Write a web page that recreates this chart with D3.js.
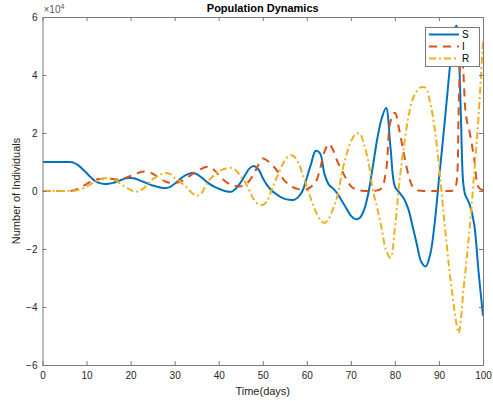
<!DOCTYPE html>
<html><head><meta charset="utf-8">
<script src="https://cdn.jsdelivr.net/npm/d3@7"></script>
<style>body{margin:0;background:#fff}svg{display:block}text{font-family:"Liberation Sans",Arial,Helvetica,sans-serif}</style>
</head><body><svg id="c" width="493" height="401"></svg>
<script>
// data (values in units of 1e4)
const days = [];
for (let t = 0; t <= 92; t++) days.push(t);
days.push(92.5, 93, 93.5, 94, 94.5, 95, 95.5, 96, 96.5, 97, 98, 99, 100);

const S = [1,1,1,1,1,1,1,0.98,0.9,0.77,0.62,0.47,0.34,0.27,0.24,0.25,0.28,0.33,0.39,0.44,
  0.45,0.43,0.37,0.31,0.25,0.19,0.15,0.11,0.1,0.14,0.25,0.38,0.5,0.58,0.62,0.58,0.48,0.35,0.24,0.15,
  0.08,0.02,-0.02,-0.02,0.1,0.3,0.55,0.78,0.86,0.75,0.45,0.2,0.02,-0.1,-0.2,-0.27,-0.3,-0.31,-0.22,0.0,
  0.45,0.95,1.38,1.3,0.6,0.22,0.08,-0.1,-0.35,-0.6,-0.85,-0.97,-0.93,-0.65,-0.05,0.85,1.8,2.5,2.86,1.5,
  0.15,-0.05,-0.25,-0.6,-1.2,-1.85,-2.45,-2.6,-2.2,-1.15,0.4,1.9,3.5,
  4.3,5.0,5.55,5.7,4.8,2.5,0.3,-0.15,-0.3,-0.48,-1.15,-2.8,-4.3];

const I = [0,0,0,0,0,0,0,0.02,0.07,0.15,0.24,0.32,0.38,0.41,0.42,0.42,0.41,0.4,0.42,0.46,
  0.52,0.58,0.64,0.67,0.66,0.6,0.5,0.4,0.32,0.28,0.28,0.3,0.38,0.48,0.58,0.68,0.76,0.83,0.83,0.72,
  0.55,0.4,0.28,0.2,0.17,0.16,0.22,0.36,0.6,0.9,1.12,1.05,0.92,0.75,0.55,0.35,0.22,0.12,0.07,0.04,
  0.06,0.15,0.3,0.75,1.35,1.62,1.4,1.0,0.7,0.4,0.17,0.06,0.02,0.0,0.0,0.0,0.02,0.1,0.7,2.4,
  2.7,2.1,1.3,0.6,0.15,0.03,0.01,0.0,0.0,0.0,0.0,0.0,0.0,
  0.0,0.01,0.05,0.3,3.0,5.0,4.2,2.8,2.3,2.0,1.1,0.13,0.02];

const R = [0,0,0,0,0,0,0,0.01,0.03,0.08,0.15,0.24,0.33,0.4,0.44,0.45,0.42,0.33,0.22,0.12,
  0.04,-0.02,0.0,0.1,0.25,0.4,0.5,0.58,0.62,0.58,0.45,0.35,0.22,0.08,-0.08,-0.16,-0.1,0.18,0.4,0.55,
  0.66,0.75,0.79,0.79,0.7,0.5,0.3,0.0,-0.3,-0.45,-0.48,-0.35,0.03,0.4,0.75,1.05,1.22,1.2,1.0,0.6,
  0.15,-0.3,-0.7,-0.98,-1.1,-0.95,-0.6,-0.15,0.65,1.25,1.7,1.95,1.98,1.6,1.0,0.03,-0.6,-1.3,-2.05,-2.3,
  -1.3,0.3,1.5,2.5,3.15,3.45,3.58,3.55,3.05,2.2,0.9,-0.7,-2.2,
  -2.9,-3.5,-4.1,-4.6,-4.9,-4.4,-3.5,-2.8,-2.0,-1.24,0.6,2.6,5.2];

const xTicks = [0,10,20,30,40,50,60,70,80,90,100];
const yTicks = [-6,-4,-2,0,2,4,6];
const seriesNames = ["S","I","R"];
const seriesColors = ["#0072BD","#D95319","#EDB120"];
const seriesDash = [null,"8,6","7,3,2,3"];
const title = "Population Dynamics";
const xLabel = "Time(days)";
const yLabel = "Number of Individuals";

const svg = d3.select("#c");
const L = 42.5, Rr = 483, T = 17, B = 365;
const x = d3.scaleLinear().domain([0,100]).range([L,Rr]);
const y = d3.scaleLinear().domain([-6,6]).range([B,T]);
const axisCol = "#262626";
const lineCol = "#7a7a7a";

// curves
svg.append("defs").append("clipPath").attr("id","clip")
  .append("rect").attr("x",L).attr("y",T).attr("width",Rr-L).attr("height",B-T);
const line = d3.line().x(d=>x(d[0])).y(d=>y(d[1])).curve(d3.curveCatmullRom.alpha(0.5));
const data = [S,I,R];
data.forEach((vals,k)=>{
  svg.append("path").attr("clip-path","url(#clip)")
    .attr("d", line(days.map((t,i)=>[t,vals[i]])))
    .attr("fill","none").attr("stroke",seriesColors[k]).attr("stroke-width",2)
    .attr("stroke-dasharray",seriesDash[k]);
});

// axes (box with inward ticks)
const gx = svg.append("g").attr("transform",`translate(0,${B})`)
  .call(d3.axisBottom(x).tickValues(xTicks).tickSizeInner(-4).tickSizeOuter(0).tickPadding(7));
const gxt = svg.append("g").attr("transform",`translate(0,${T})`)
  .call(d3.axisTop(x).tickValues(xTicks).tickSizeInner(-4).tickSizeOuter(0).tickFormat(""));
const gy = svg.append("g").attr("transform",`translate(${L},0)`)
  .call(d3.axisLeft(y).tickValues(yTicks).tickSizeInner(-4).tickSizeOuter(0).tickPadding(5));
const gyr = svg.append("g").attr("transform",`translate(${Rr},0)`)
  .call(d3.axisRight(y).tickValues(yTicks).tickSizeInner(-4).tickSizeOuter(0).tickFormat(""));
[gx,gxt,gy,gyr].forEach(g=>{
  g.selectAll("path").attr("stroke",lineCol).attr("stroke-width",1);
  g.selectAll("line").attr("stroke",lineCol).attr("stroke-width",1);
  g.selectAll("text").attr("fill",axisCol).style("font-size","10px")
    .style("font-family",'"Liberation Sans",Arial,sans-serif');
});

// exponent label
const ex = svg.append("text").attr("x",L+1).attr("y",T-4).attr("fill","#555").style("font-size","10px");
ex.append("tspan").text("\u00d710");
ex.append("tspan").attr("dy",-4).style("font-size","7px").text("4");

// title & labels
svg.append("text").attr("x",(L+Rr)/2).attr("y",12).attr("text-anchor","middle")
  .style("font-size","11px").style("font-weight","bold").attr("fill","#000").text(title);
svg.append("text").attr("x",(L+Rr)/2).attr("y",395).attr("text-anchor","middle")
  .style("font-size","11px").attr("fill",axisCol).text(xLabel);
svg.append("text").attr("transform",`translate(20,${(T+B)/2}) rotate(-90)`).attr("text-anchor","middle")
  .style("font-size","11px").attr("fill",axisCol).text(yLabel);

// legend
const lg = svg.append("g");
lg.append("rect").attr("x",425.5).attr("y",27.5).attr("width",54).attr("height",39)
  .attr("fill","#fff").attr("stroke",lineCol).attr("stroke-width",1);
seriesNames.forEach((n,k)=>{
  const yy = 34.5 + k*12;
  lg.append("line").attr("x1",429).attr("x2",459).attr("y1",yy).attr("y2",yy)
    .attr("stroke",seriesColors[k]).attr("stroke-width",2).attr("stroke-dasharray",seriesDash[k]);
  lg.append("text").attr("x",462).attr("y",yy+3.5).style("font-size","10px").attr("fill","#000").text(n);
});
</script></body></html>
